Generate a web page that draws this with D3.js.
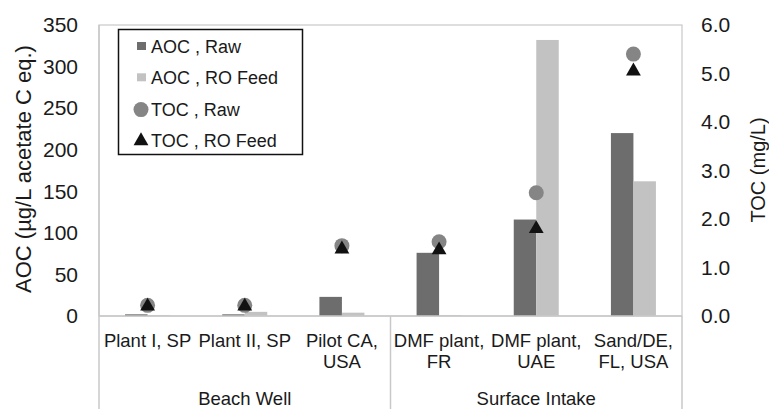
<!DOCTYPE html>
<html><head><meta charset="utf-8">
<script src="https://cdn.jsdelivr.net/npm/d3@7"></script>
<style>body{margin:0;background:#fff}svg{font-family:"Liberation Sans",Arial,sans-serif}</style>
</head><body><svg id="c" width="769" height="409"></svg>
<script>
const categories = [["Plant I, SP"],["Plant II, SP"],["Pilot CA,","USA"],["DMF plant,","FR"],["DMF plant,","UAE"],["Sand/DE,","FL, USA"]];
const groups = [{name:"Beach Well", from:0, to:2},{name:"Surface Intake", from:3, to:5}];
const aocRaw = [2, 2, 23, 76, 116, 220];
const aocRO  = [1, 5, 4, 1, 332, 162];
const tocRaw = [0.22, 0.22, 1.45, 1.53, 2.54, 5.40];
const tocRO  = [0.22, 0.22, 1.40, 1.38, 1.82, 5.07];
const leftTicks = [0,50,100,150,200,250,300,350];
const rightTicks = [0,1,2,3,4,5,6];
const legendItems = ["AOC , Raw","AOC , RO Feed","TOC , Raw","TOC , RO Feed"];

const svg = d3.select("#c");
const L=99, R=682, T=25, B=316;
const x = d3.scaleBand().domain(d3.range(categories.length)).range([L,R]);
const yL = d3.scaleLinear().domain([0,350]).range([B,T]);
const yR = d3.scaleLinear().domain([0,6]).range([B,T]);
const cRaw="#6d6d6d", cRO="#c2c2c2", cCirc="#858585", grid="#c8c8c8", txt="#1a1a1a";
const bw = 22.5;
const triSize = 95;

svg.append("rect").attr("x",L).attr("y",T).attr("width",R-L).attr("height",B-T)
  .attr("fill","none").attr("stroke",grid).attr("stroke-width",1.2);

const g = svg.append("g");
categories.forEach((c,i)=>{
  const cx = x(i)+x.bandwidth()/2;
  g.append("rect").attr("x",cx-bw).attr("width",bw).attr("y",yL(aocRaw[i])).attr("height",B-yL(aocRaw[i])).attr("fill",cRaw);
  g.append("rect").attr("x",cx).attr("width",bw).attr("y",yL(aocRO[i])).attr("height",B-yL(aocRO[i])).attr("fill",cRO);
});
svg.append("line").attr("x1",L).attr("x2",R).attr("y1",B).attr("y2",B).attr("stroke",grid).attr("stroke-width",1.5);
svg.append("line").attr("x1",L).attr("x2",L).attr("y1",T).attr("y2",B).attr("stroke",grid).attr("stroke-width",1.5);

categories.forEach((c,i)=>{
  const cx = x(i)+x.bandwidth()/2;
  svg.append("circle").attr("cx",cx).attr("cy",yR(tocRaw[i])).attr("r",7.5).attr("fill",cCirc);
  svg.append("path").attr("d",d3.symbol(d3.symbolTriangle,triSize)())
    .attr("transform",`translate(${cx},${yR(tocRO[i])+1})`).attr("fill","#111");
});

const axL = svg.append("g").attr("transform",`translate(${L},0)`)
  .call(d3.axisLeft(yL).tickValues(leftTicks).tickSize(0).tickPadding(21).tickFormat(d3.format("d")));
axL.select(".domain").remove();
axL.selectAll("text").attr("font-size",21).attr("fill",txt).style("font-family","Liberation Sans, Arial, sans-serif");
const axR = svg.append("g").attr("transform",`translate(${R},0)`)
  .call(d3.axisRight(yR).tickValues(rightTicks).tickSize(0).tickPadding(19).tickFormat(d3.format(".1f")));
axR.select(".domain").remove();
axR.selectAll("text").attr("font-size",21).attr("fill",txt).style("font-family","Liberation Sans, Arial, sans-serif");

svg.append("text").attr("transform","translate(31,169) rotate(-90)").attr("text-anchor","middle")
  .attr("font-size",22).attr("fill",txt).text("AOC (µg/L acetate C eq.)");
svg.append("text").attr("transform","translate(765,170) rotate(-90)").attr("text-anchor","middle")
  .attr("font-size",20).attr("fill",txt).text("TOC (mg/L)");

categories.forEach((c,i)=>{
  const cx = x(i)+x.bandwidth()/2;
  c.forEach((line,j)=>{
    svg.append("text").attr("x",cx).attr("y",347+j*20.5).attr("text-anchor","middle")
      .attr("font-size",18.5).attr("fill",txt).text(line);
  });
});
const seps = [L, x(3), R];
seps.forEach(s=>svg.append("line").attr("x1",s).attr("x2",s).attr("y1",B).attr("y2",409).attr("stroke",grid).attr("stroke-width",1.5));
groups.forEach(gr=>{
  const cx = (x(gr.from)+x(gr.to)+x.bandwidth())/2;
  svg.append("text").attr("x",cx).attr("y",405).attr("text-anchor","middle")
    .attr("font-size",18.5).attr("fill",txt).text(gr.name);
});

const lg = svg.append("g");
lg.append("rect").attr("x",118.5).attr("y",29.5).attr("width",184).attr("height",125)
  .attr("fill","#fff").attr("stroke","#111").attr("stroke-width",1.5);
legendItems.forEach((t,i)=>{
  const base = 53+i*31.3;
  const yy = base-7;
  if(i<2) lg.append("rect").attr("x",137).attr("y",yy-4).attr("width",9).attr("height",8).attr("fill",i==0?cRaw:cRO);
  else if(i==2) lg.append("circle").attr("cx",141).attr("cy",yy+1).attr("r",7.5).attr("fill",cCirc);
  else lg.append("path").attr("d",d3.symbol(d3.symbolTriangle,triSize)()).attr("transform",`translate(141,${yy+1})`).attr("fill","#111");
  lg.append("text").attr("x",151).attr("y",base).attr("font-size",18).attr("fill",txt).text(t);
});
</script></body></html>
